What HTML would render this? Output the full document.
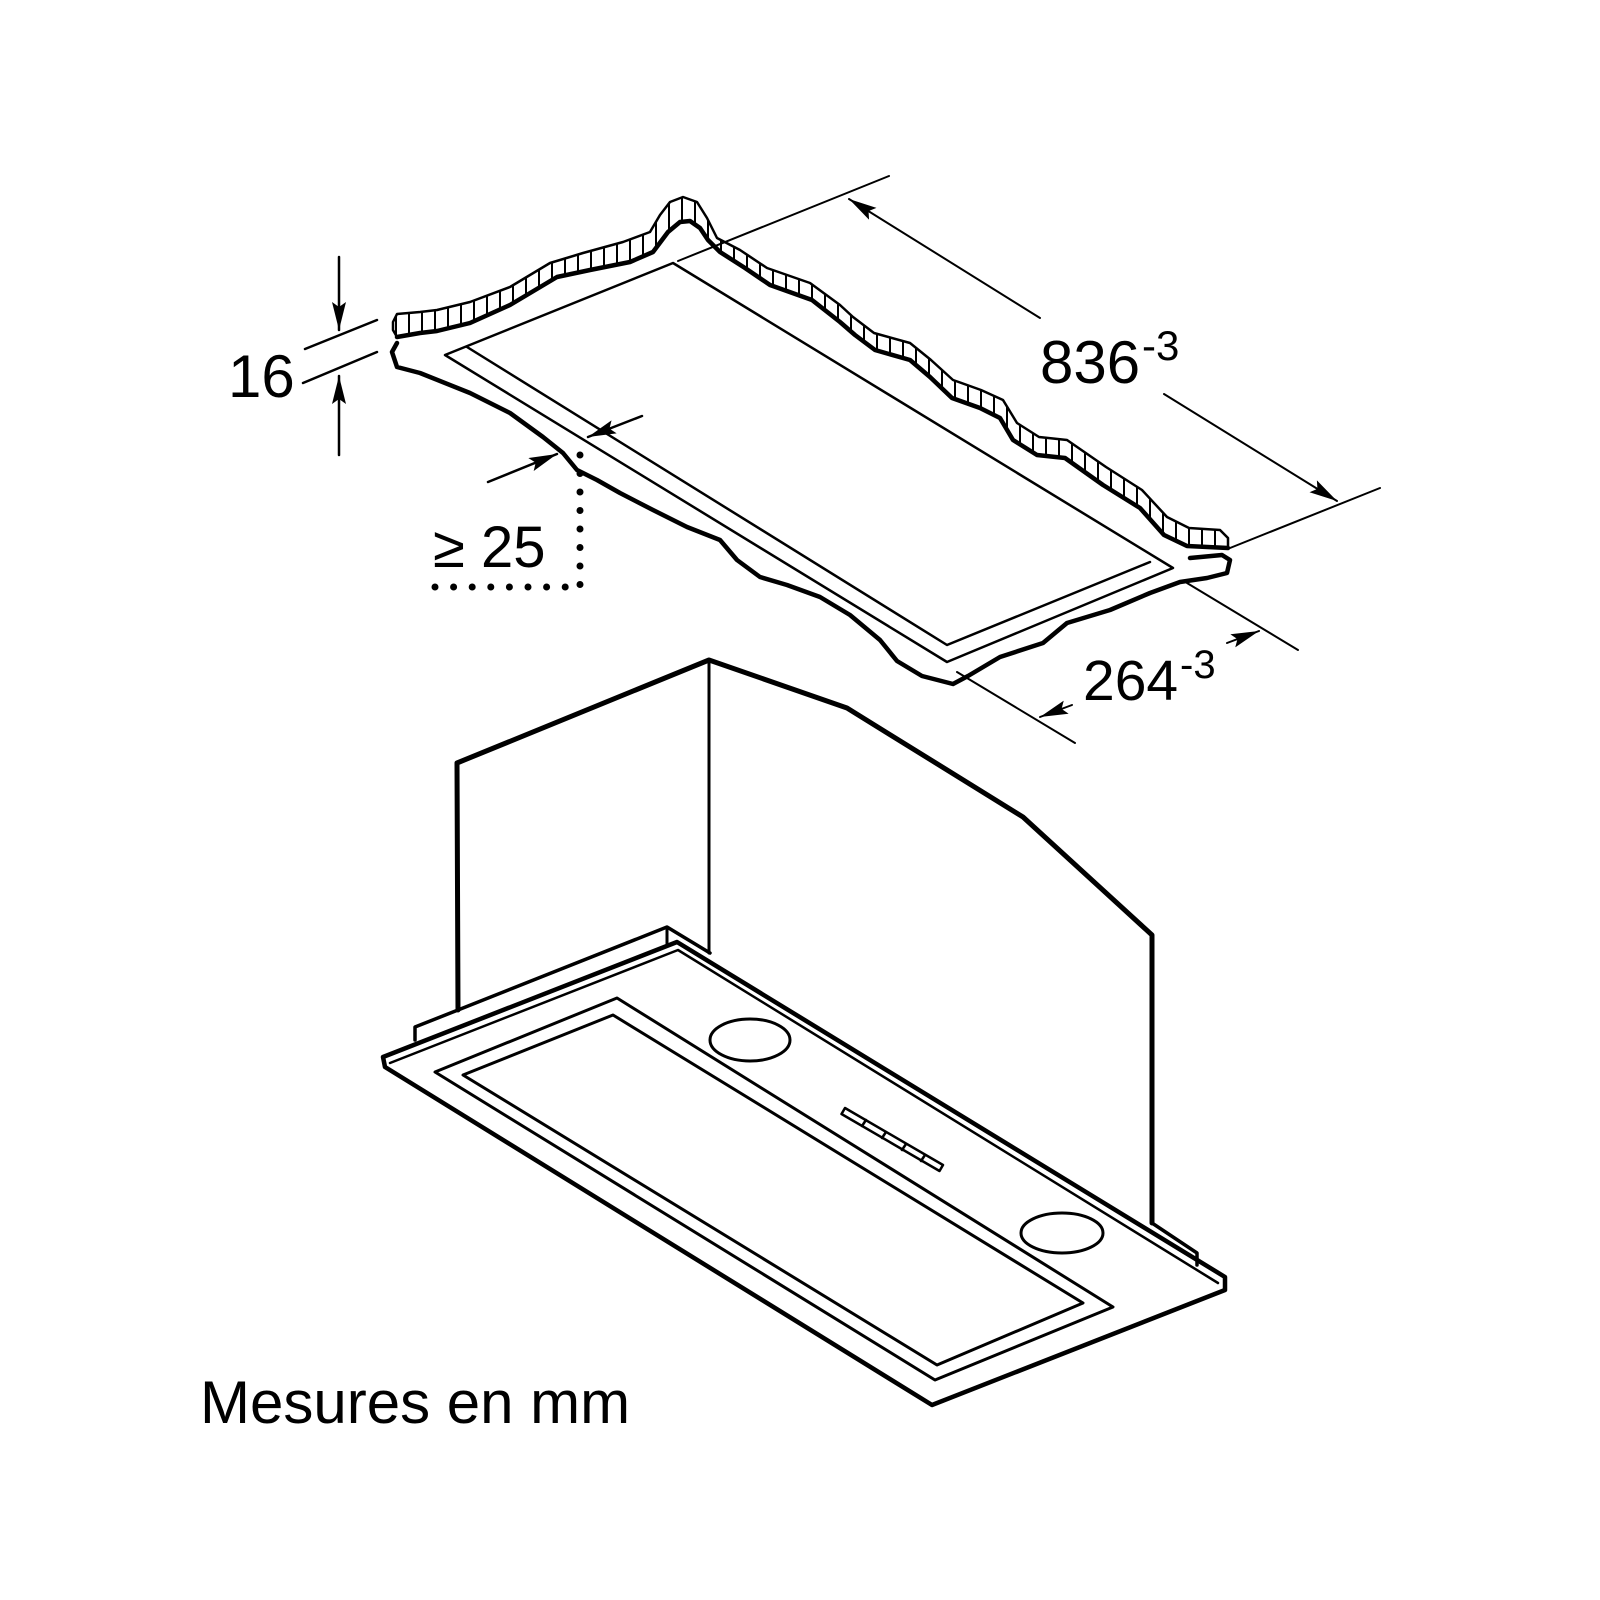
<!DOCTYPE html>
<html><head><meta charset="utf-8"><style>
html,body{margin:0;padding:0;background:#fff;}
svg{display:block;}
text{font-family:"Liberation Sans",Arial,sans-serif;fill:#000;}
</style></head><body>
<svg width="1600" height="1600" viewBox="0 0 1600 1600" xmlns="http://www.w3.org/2000/svg">
<defs>
<pattern id="h" patternUnits="userSpaceOnUse" width="13" height="20">
<rect width="13" height="20" fill="#fff"/>
<line x1="6" y1="0" x2="6" y2="20" stroke="#000" stroke-width="2"/>
</pattern>
<marker id="a" viewBox="0 0 28 14" refX="28" refY="7" markerWidth="28" markerHeight="14" markerUnits="userSpaceOnUse" orient="auto">
<path d="M0,0 L28,7 L0,14 L5,7 Z" fill="#000"/>
</marker>
</defs>
<g fill="none" stroke="#000" stroke-linejoin="round" stroke-linecap="round">
<polygon fill="url(#h)" stroke="none" points="393,322 397,314 420,312 437,310 470,302 510,287 550,263 583,253 623,242 650,232 660,215 670,202 683,197 697,202 707,218 717,238 740,250 767,268 810,283 840,305 853,317 874,333 910,343 931,360 953,380 981,390 1003,400 1017,423 1039,437 1067,440 1106,467 1142,490 1167,517 1189,528 1220,530 1228,538 1228,548 1187,546 1164,535 1140,508 1103,485 1065,458 1037,455 1013,440 1000,418 980,408 952,398 930,377 910,360 875,350 855,335 840,322 812,300 770,285 745,268 720,252 708,240 700,228 690,221 680,222 668,232 653,252 630,262 590,270 557,277 510,305 470,323 437,331 420,333 397,337 393,330"/>
<polyline stroke-width="2.5" points="397,337 393,330 393,322 397,314 420,312 437,310 470,302 510,287 550,263 583,253 623,242 650,232 660,215 670,202 683,197 697,202 707,218 717,238 740,250 767,268 810,283 840,305 853,317 874,333 910,343 931,360 953,380 981,390 1003,400 1017,423 1039,437 1067,440 1106,467 1142,490 1167,517 1189,528 1220,530 1228,538 1228,548"/>
<polyline stroke-width="4.5" points="397,337 420,333 437,331 470,323 510,305 557,277 590,270 630,262 653,252 668,232 680,222 690,221 700,228 708,240 720,252 745,268 770,285 812,300 840,322 855,335 875,350 910,360 930,377 952,398 980,408 1000,418 1013,440 1037,455 1065,458 1103,485 1140,508 1164,535 1187,546 1228,548"/>
<polyline stroke-width="4.5" points="397,343 392,352 397,367 420,373 470,393 510,413 543,437 563,453 577,470 597,480 620,493 653,510 687,527 720,540 737,560 760,577 787,585 820,597 850,615 880,640 897,661 922,676 953,684 968,676 1000,657 1043,643 1067,623 1110,610 1150,593 1180,582 1207,578 1227,573 1230,560 1222,555 1190,558"/>
<polygon stroke-width="2.5" points="445,355 673,263 1173,568 947,662"/>
<polyline stroke-width="2.5" points="467,347 947,645 1150,562"/>
<line stroke-width="2" x1="678" y1="261" x2="889" y2="176"/>
<line stroke-width="2" x1="1230" y1="548" x2="1380" y2="488"/>
<line stroke-width="2" x1="1040" y1="318" x2="849" y2="199" marker-end="url(#a)"/>
<line stroke-width="2" x1="1164" y1="394" x2="1337" y2="501" marker-end="url(#a)"/>
<line stroke-width="2" x1="1187" y1="583" x2="1298" y2="650"/>
<line stroke-width="2" x1="957" y1="672" x2="1075" y2="743"/>
<line stroke-width="2" x1="1072" y1="705" x2="1040" y2="717" marker-end="url(#a)"/>
<line stroke-width="2" x1="1227" y1="643" x2="1259" y2="631" marker-end="url(#a)"/>
<line stroke-width="2.5" x1="305" y1="349" x2="377" y2="320"/>
<line stroke-width="2.5" x1="303" y1="383" x2="377" y2="352"/>
<line stroke-width="2.5" x1="339" y1="257" x2="339" y2="330" marker-end="url(#a)"/>
<line stroke-width="2.5" x1="339" y1="455" x2="339" y2="376" marker-end="url(#a)"/>
<line stroke-width="2.5" x1="488" y1="482" x2="557" y2="454" marker-end="url(#a)"/>
<line stroke-width="2.5" x1="642" y1="416" x2="588" y2="437" marker-end="url(#a)"/>
<line stroke-width="7" stroke-dasharray="0 18.5" x1="580" y1="455" x2="580" y2="585"/>
<line stroke-width="7" stroke-dasharray="0 18.6" x1="435" y1="587" x2="580" y2="587"/>
<polyline stroke-width="5" points="458,1010 457,763 709,660 847,708 1023,817 1152,935 1152,1223"/>
<line stroke-width="3" x1="709" y1="660" x2="709" y2="953"/>
<polyline stroke-width="3.5" points="415,1040 415,1027 458,1010 667,927 710,953"/>
<line stroke-width="3" x1="667" y1="927" x2="667" y2="945"/>
<polyline stroke-width="3.5" points="1152,1223 1197,1253 1197,1265"/>
<polygon stroke-width="4.5" points="383,1057 677,942 1225,1277 1225,1290 932,1405 385,1067"/>
<polyline stroke-width="2.5" points="390,1063 678,950 1218,1283"/>
<polygon stroke-width="3" points="435,1072 617,998 1113,1307 935,1380"/>
<polygon stroke-width="3" points="463,1075 613,1015 1083,1303 937,1365"/>
<ellipse stroke-width="3" cx="750" cy="1040" rx="40" ry="21"/>
<ellipse stroke-width="3" cx="1062" cy="1233" rx="41" ry="20"/>
<polygon stroke-width="2.5" points="845,1108 943,1165 939.5,1171 841.5,1114"/>
<line stroke-width="2.5" x1="866" y1="1120" x2="862" y2="1126"/>
<line stroke-width="2.5" x1="886" y1="1132" x2="882" y2="1138"/>
<line stroke-width="2.5" x1="906" y1="1144" x2="902" y2="1150"/>
<line stroke-width="2.5" x1="925" y1="1155" x2="921" y2="1161"/>
</g>
<text x="228" y="397" font-size="60">16</text>
<text x="433" y="567" font-size="58">≥ 25</text>
<text x="1040" y="383" font-size="60">836</text>
<text x="1142" y="360" font-size="42">-3</text>
<text x="1083" y="700" font-size="57">264</text>
<text x="1180" y="678" font-size="40">-3</text>
<text x="200" y="1423" font-size="60">Mesures en mm</text>
</svg>
</body></html>
